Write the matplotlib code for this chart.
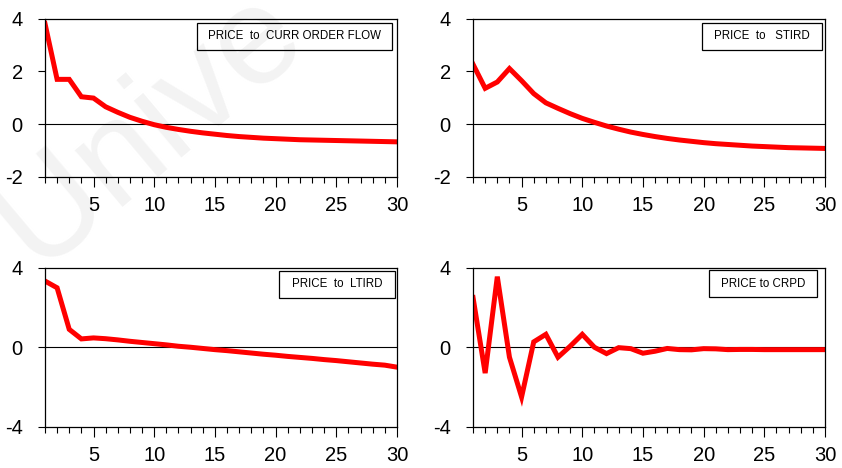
import matplotlib
matplotlib.use("Agg")
from matplotlib import pyplot as plt
from matplotlib.patches import Rectangle
import numpy as np

################ Data ########################
periods = np.arange(1, 31)

curr_order_flow = [3.82, 1.70, 1.70, 1.04, 0.99, 0.66, 0.45, 0.26, 0.11, -0.02,
                   -0.12, -0.20, -0.27, -0.33, -0.38, -0.43, -0.47, -0.50, -0.53, -0.55,
                   -0.57, -0.59, -0.60, -0.61, -0.62, -0.63, -0.64, -0.65, -0.66, -0.67]

stird = [2.27, 1.36, 1.60, 2.11, 1.65, 1.16, 0.81, 0.60, 0.40, 0.22,
         0.07, -0.07, -0.19, -0.30, -0.39, -0.47, -0.54, -0.60, -0.65, -0.70,
         -0.74, -0.77, -0.80, -0.83, -0.85, -0.87, -0.89, -0.90, -0.91, -0.92]

ltird = [3.33, 2.99, 0.90, 0.42, 0.47, 0.43, 0.37, 0.30, 0.24, 0.18,
         0.12, 0.05, 0.00, -0.06, -0.12, -0.17, -0.23, -0.29, -0.35, -0.40,
         -0.46, -0.51, -0.56, -0.62, -0.67, -0.73, -0.79, -0.85, -0.90, -1.00]

crpd = [2.50, -1.30, 3.55, -0.50, -2.50, 0.27, 0.65, -0.50, 0.05, 0.65,
        0.00, -0.32, -0.02, -0.07, -0.30, -0.20, -0.06, -0.12, -0.13, -0.07,
        -0.08, -0.12, -0.11, -0.11, -0.12, -0.12, -0.12, -0.12, -0.12, -0.12]

titles = ["PRICE  to  CURR ORDER FLOW", "PRICE  to   STIRD", "PRICE  to  LTIRD", "PRICE to CRPD"]
series = [curr_order_flow, stird, ltird, crpd]
yticks = [[-2, 0, 2, 4], [-2, 0, 2, 4], [-4, 0, 4], [-4, 0, 4]]
xticks = [5, 10, 15, 20, 25, 30]

################ Layout ########################
positions = [[0.0534, 0.622, 0.418, 0.338],
             [0.5618, 0.622, 0.418, 0.338],
             [0.0534, 0.088, 0.418, 0.340],
             [0.5618, 0.088, 0.418, 0.340]]
boxes = [[0.432, 0.804, 0.554, 0.171],
         [0.650, 0.804, 0.341, 0.171],
         [0.665, 0.810, 0.329, 0.171],
         [0.670, 0.815, 0.307, 0.171]]

plt.rcParams['font.family'] = ['Liberation Sans', 'DejaVu Sans']
plt.rcParams['axes.unicode_minus'] = False

fig = plt.figure(figsize=(8.42, 4.68), dpi=100)

# faint watermark behind everything
fig.text(0.043, 0.423, "Unive", fontsize=100, color='#f3f3f3', rotation=40,
         rotation_mode='anchor', ha='left', va='baseline', zorder=-5)

for i in range(4):
    ax = fig.add_axes(positions[i])
    ax.patch.set_alpha(0)
    ax.axhline(0, color='black', lw=0.8, zorder=1)
    ax.plot(periods, series[i], color='#ff0000', lw=3.6, solid_joinstyle='miter', zorder=2)
    ax.set_xlim(1, 30)
    ax.set_ylim(yticks[i][0], yticks[i][-1])
    ax.set_yticks(yticks[i])
    ax.set_xticks(xticks)
    ax.set_xticks(periods, minor=True)
    ax.tick_params(axis='x', which='major', direction='out', length=7, width=0.8,
                   labelsize=14.5, pad=7)
    ax.tick_params(axis='x', which='minor', direction='out', length=4, width=0.8)
    ax.tick_params(axis='y', direction='out', length=5, width=0.8, labelsize=14.5, pad=11)
    for s in ax.spines.values():
        s.set_linewidth(0.9)
    b = boxes[i]
    ax.add_patch(Rectangle((b[0], b[1]), b[2], b[3], transform=ax.transAxes,
                           fill=False, edgecolor='black', lw=0.9, zorder=3))
    ax.text(b[0] + b[2] / 2, b[1] + b[3] / 2, titles[i], transform=ax.transAxes,
            ha='center', va='center', fontsize=8.3, zorder=4)

plt.savefig('out.png', dpi=100)
